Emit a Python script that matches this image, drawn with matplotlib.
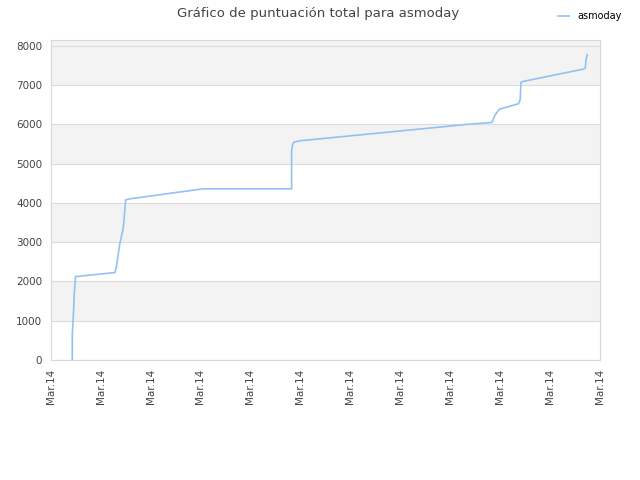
import matplotlib
matplotlib.use("Agg")
import matplotlib.pyplot as plt

# Daten
x_pos = [0.435, 0.435, 0.455, 0.475, 0.500, 1.288, 1.316, 1.348, 1.382, 1.416,
         1.449, 1.463, 1.489, 1.503, 1.583, 3.052, 4.823, 4.823, 4.843, 4.869,
         4.989, 8.395, 8.830, 8.896, 8.982, 9.363, 9.397, 9.411, 9.463, 10.665,
         10.699, 10.713, 10.739]
scores = [0, 637, 1104, 1699, 2123, 2225, 2361, 2632, 2930, 3142,
          3312, 3482, 3865, 4076, 4102, 4357, 4357, 5307, 5478, 5546,
          5580, 6005, 6046, 6242, 6386, 6522, 6624, 7066, 7092, 7406,
          7431, 7643, 7771]
tick_labels = ["Mar.14"] * 12
y_ticks = [0, 1000, 2000, 3000, 4000, 5000, 6000, 7000, 8000]

fig = plt.figure(figsize=(6.4, 4.8), dpi=100)
ax = fig.add_axes([0.079, 0.25, 0.859, 0.666])

ymax = 8137
# abwechselnde Baender
for lo in [1000, 3000, 5000, 7000]:
    ax.axhspan(lo, lo + 1000, color="#f3f3f3", zorder=0, lw=0)
ax.axhspan(8000, ymax, color="#f3f3f3", zorder=0, lw=0)

ax.plot(x_pos, scores, color="#92c1f4", lw=1.2, label="asmoday", zorder=3)

ax.set_xlim(0, 11)
ax.set_ylim(0, ymax)
ax.set_yticks(y_ticks)
ax.set_xticks(range(12))
ax.set_xticklabels(tick_labels, rotation=90)
ax.grid(axis="y", color="#dcdcdc", lw=0.8, zorder=1)
ax.set_axisbelow(True)
ax.tick_params(length=0, labelsize=7.5, colors="#444444", pad=6)
for s in ax.spines.values():
    s.set_color("#d8d8d8")

fig.text(0.497, 0.972, "Gráfico de puntuación total para asmoday",
         ha="center", va="center", fontsize=9.5, color="#444444")
fig.legend(loc="upper right", bbox_to_anchor=(0.985, 0.995), frameon=False,
           fontsize=7, handlelength=1.2, handletextpad=0.8)

fig.savefig("out.png", dpi=100)
